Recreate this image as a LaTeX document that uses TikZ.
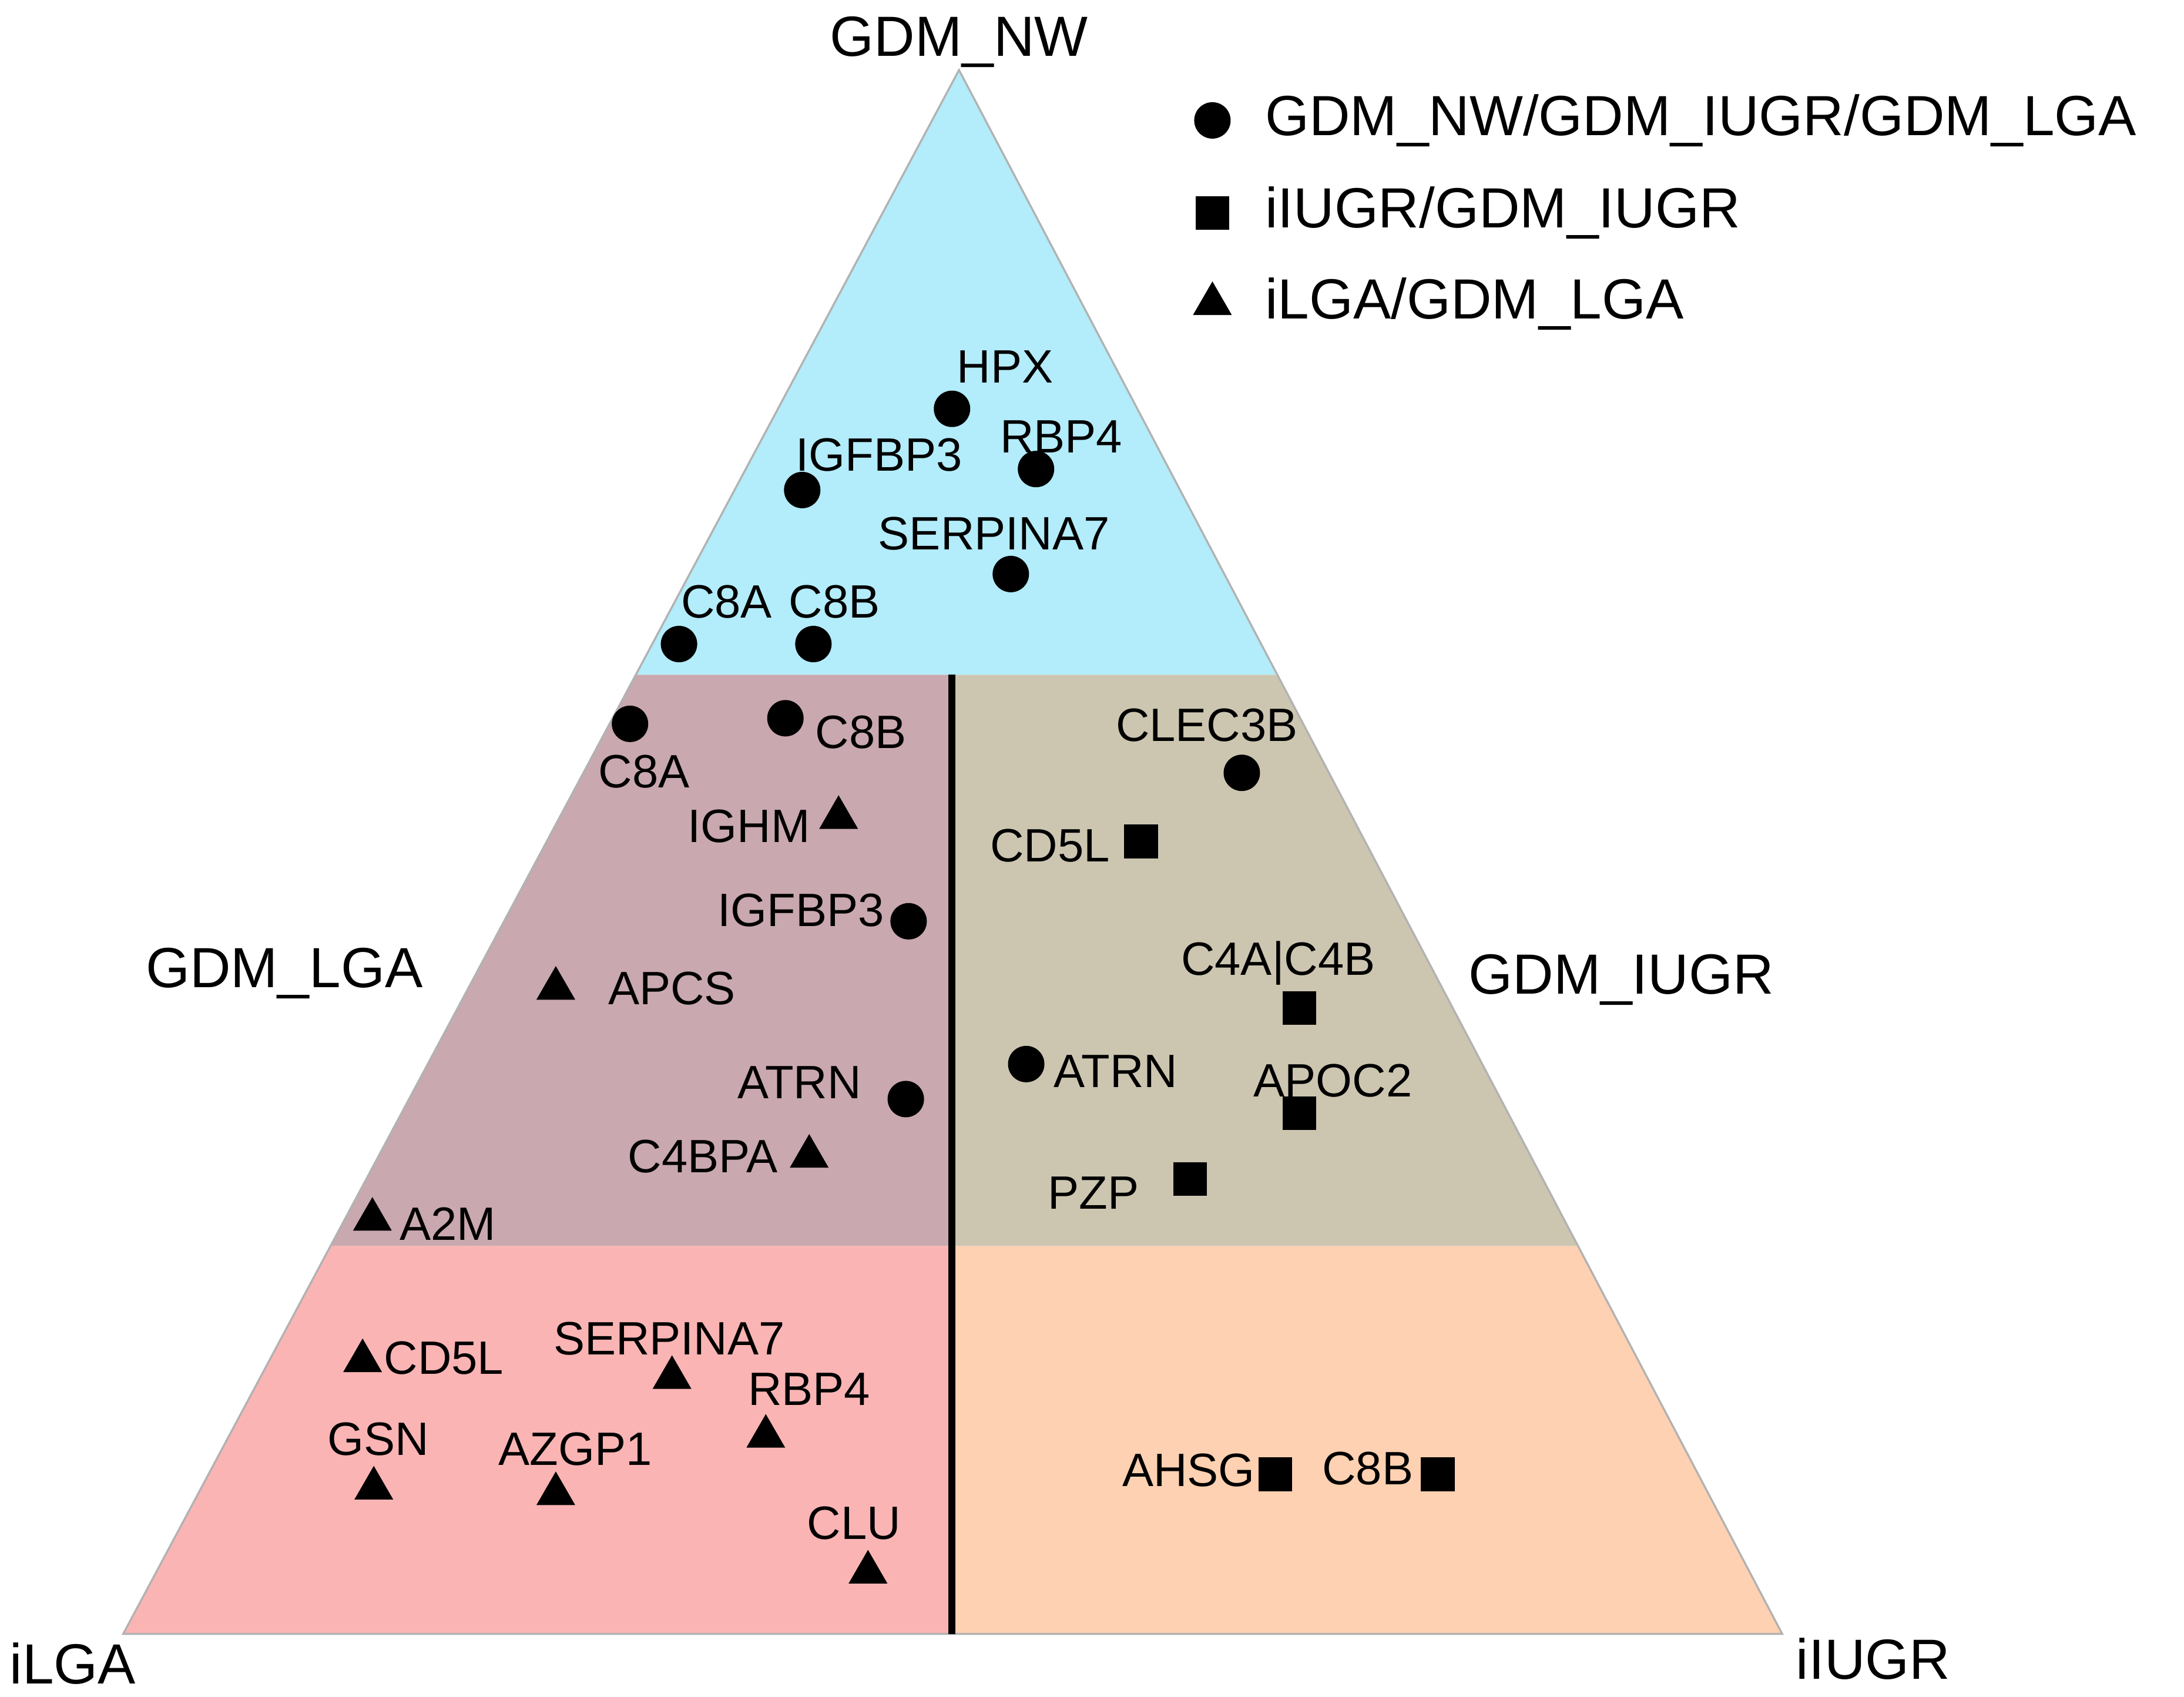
\documentclass[tikz,border=0pt]{standalone}
\usepackage{fontspec}
\setmainfont{Liberation Sans}
\usetikzlibrary{shapes.geometric,positioning}
\definecolor{nwblue}{HTML}{B3ECFA}
\definecolor{lgamauve}{HTML}{C9A8AF}
\definecolor{iugrtan}{HTML}{CCC6B1}
\definecolor{ilgapink}{HTML}{FBB4B4}
\definecolor{iugrpeach}{HTML}{FDD1B1}
\begin{document}
\begin{tikzpicture}
  [
  x=0.01cm, y=-0.01cm, font=\fontsize{9.5}{11}\selectfont,
  dot/.style={circle, fill=black, inner sep=0pt, minimum size=0.26cm},
  sq/.style={rectangle, fill=black, inner sep=0pt, minimum size=0.24cm},
  tri/.style={regular polygon, regular polygon sides=3, fill=black, inner sep=0pt, minimum size=0.32cm},
  lab/.style={inner sep=0pt},
  big/.style={inner sep=0pt, font=\fontsize{11.5}{13}\selectfont},
  ]
  \useasboundingbox (0,0) rectangle (1560,1212);

  % regions
  \coordinate (top) at (685,50);
  \coordinate (bl) at (88,1167);
  \coordinate (br) at (1273,1167);
  \fill[nwblue] (top) -- (454,482) -- (912,482) -- cycle;
  \fill[lgamauve] (454,482) -- (680,482) -- (680,890) -- (236,890) -- cycle;
  \fill[iugrtan] (680,482) -- (912,482) -- (1127,890) -- (680,890) -- cycle;
  \fill[ilgapink] (236,890) -- (680,890) -- (680,1167) -- (bl) -- cycle;
  \fill[iugrpeach] (680,890) -- (1127,890) -- (br) -- (680,1167) -- cycle;
  \draw[gray!60, line width=0.4pt] (top) -- (bl) -- (br) -- cycle;
  \draw[line width=1.4pt] (680,482) -- (680,1167);

  % corners
  \node[big] (nw) at (685,30) {GDM\_NW};
  \node[big] (lga) at (203,695) {GDM\_LGA};
  \node[big] (iugr) at (1158,700) {GDM\_IUGR};
  \node[big] (ilga) at (52,1188) {iLGA};
  \node[big] (iiugr) at (1338,1185) {iIUGR};

  % legend
  \node[dot] (leg1) at (866,86) {};
  \node[big, anchor=west] (leg1t) at (903,86) {GDM\_NW/GDM\_IUGR/GDM\_LGA};
  \node[sq] (leg2) at (866,152) {};
  \node[big, anchor=west] (leg2t) at (903,152) {iIUGR/GDM\_IUGR};
  \node[tri] (leg3) at (866,217) {};
  \node[big, anchor=west] (leg3t) at (903,217) {iLGA/GDM\_LGA};

  % GDM_NW
  \node[dot] (hpx) at (680,292) {};
  \node[lab] at (718,262) {HPX};
  \node[dot] (rbp4a) at (740,335) {};
  \node[lab] at (758,312) {RBP4};
  \node[dot] (igfbp3a) at (573,350) {};
  \node[lab] at (628,325) {IGFBP3};
  \node[dot] (serpa) at (722,410) {};
  \node[lab] at (710,381) {SERPINA7};
  \node[dot] (c8aa) at (485,460) {};
  \node[lab] at (519,430) {C8A};
  \node[dot] (c8ba) at (581,460) {};
  \node[lab] at (596,430) {C8B};

  % GDM_LGA
  \node[dot] (c8ab) at (450,517) {};
  \node[lab] at (460,551) {C8A};
  \node[dot] (c8bb) at (561,513) {};
  \node[lab] at (615,523) {C8B};
  \node[tri] (ighm) at (599,584) {};
  \node[lab] at (535,590) {IGHM};
  \node[dot] (igfbp3b) at (649,658) {};
  \node[lab] at (572,650) {IGFBP3};
  \node[tri] (apcs) at (397,706) {};
  \node[lab] at (480,706) {APCS};
  \node[dot] (atrnb) at (647,785) {};
  \node[lab] at (571,773) {ATRN};
  \node[tri] (c4bpa) at (578,826) {};
  \node[lab] at (502,826) {C4BPA};
  \node[tri] (a2m) at (266,871) {};
  \node[lab] at (320,874) {A2M};

  % GDM_IUGR
  \node[dot] (clec) at (887,552) {};
  \node[lab] at (862,518) {CLEC3B};
  \node[sq] (cd5lc) at (815,601) {};
  \node[lab] at (750,604) {CD5L};
  \node[sq] (c4a) at (928,720) {};
  \node[lab] at (913,688) {C4A|C4B};
  \node[dot] (atrnc) at (733,760) {};
  \node[lab] at (797,765) {ATRN};
  \node[sq] (apoc) at (928,795) {};
  \node[lab] at (952,772) {APOC2};
  \node[sq] (pzp) at (850,842) {};
  \node[lab] at (781,852) {PZP};

  % iLGA
  \node[tri] (cd5ld) at (259,972) {};
  \node[lab] at (317,970) {CD5L};
  \node[tri] (serpd) at (480,984) {};
  \node[lab] at (478,956) {SERPINA7};
  \node[tri] (rbp4d) at (547,1026) {};
  \node[lab] at (578,992) {RBP4};
  \node[tri] (gsn) at (267,1063) {};
  \node[lab] at (270,1028) {GSN};
  \node[tri] (azgp) at (397,1067) {};
  \node[lab] at (411,1035) {AZGP1};
  \node[tri] (clu) at (620,1123) {};
  \node[lab] at (610,1088) {CLU};

  % iIUGR
  \node[sq] (ahsg) at (911,1053) {};
  \node[lab] at (849,1050) {AHSG};
  \node[sq] (c8be) at (1027,1053) {};
  \node[lab] at (977,1049) {C8B};
\end{tikzpicture}
\end{document}
